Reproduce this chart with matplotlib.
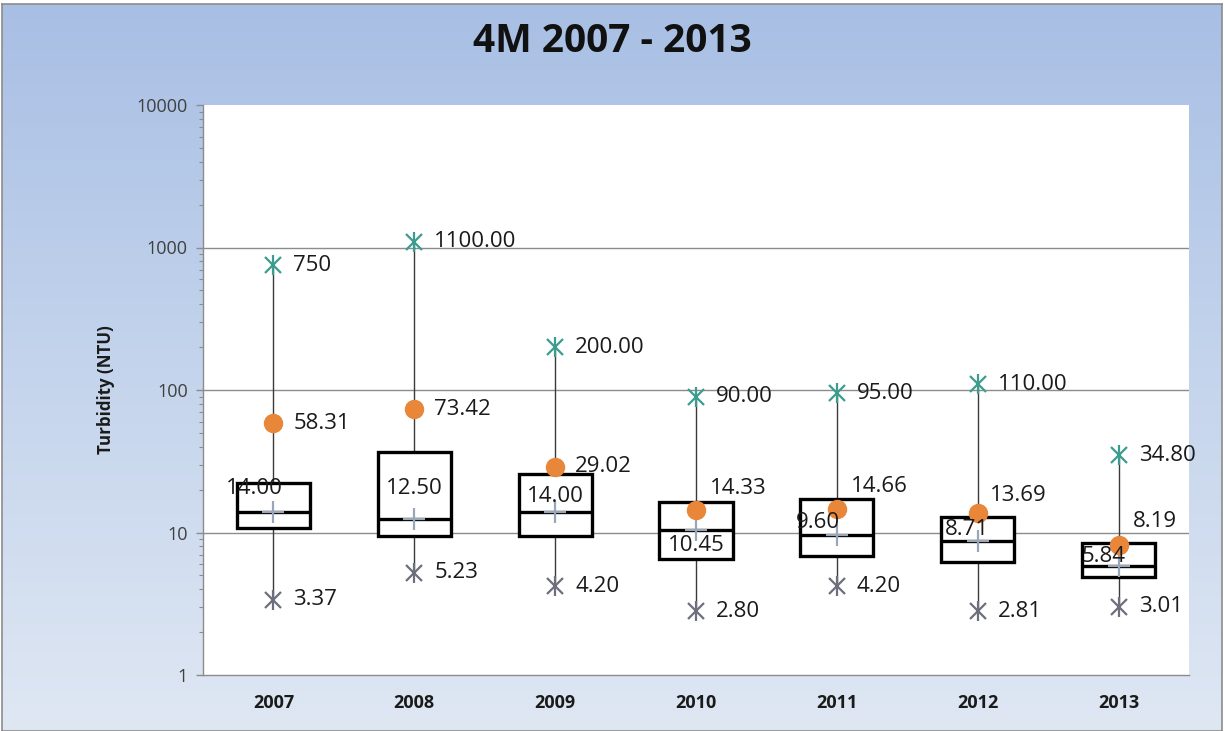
import numpy as np
import matplotlib
matplotlib.use("Agg")
import matplotlib.pyplot as plt
from matplotlib.colors import LinearSegmentedColormap

# ---------------- data ----------------
years = ['2007', '2008', '2009', '2010', '2011', '2012', '2013']
maximum = [750, 1100.00, 200.00, 90.00, 95.00, 110.00, 34.80]
q3 = [22.4, 36.5, 25.9, 16.3, 17.1, 12.9, 8.5]
median = [14.00, 12.50, 14.00, 10.45, 9.60, 8.71, 5.84]
q1 = [10.8, 9.4, 9.4, 6.5, 6.8, 6.2, 4.85]
minimum = [3.37, 5.23, 4.20, 2.80, 4.20, 2.81, 3.01]
mean = [58.31, 73.42, 29.02, 14.33, 14.66, 13.69, 8.19]
max_labels = ['750', '1100.00', '200.00', '90.00', '95.00', '110.00', '34.80']
yticks = [1, 10, 100, 1000, 10000]
ytick_labels = ['1', '10', '100', '1000', '10000']

# ---------------- style ----------------
# label offsets in pixels (dx, dy); dy positive = up
median_offsets = [(-19, 23), (0, 30), (0, 15), (0, -16), (-19, 13), (-11, 12), (-15, 9)]
mean_offsets = [(20, 0), (20, 0), (20, 0), (14, 22), (14, 22), (12, 18), (14, 23)]

W, H, DPI = 1225, 731, 100
fig = plt.figure(figsize=(W / DPI, H / DPI), dpi=DPI)
fig.patch.set_facecolor('white')

# background gradient panel with border
bg = fig.add_axes([2 / W, 0, 1220 / W, 727 / H])
grad = np.linspace(0, 1, 256).reshape(-1, 1)
cmap = LinearSegmentedColormap.from_list('bg', ['#a8bfe4', '#c4d4ec', '#dfe7f3'])
bg.imshow(grad, aspect='auto', cmap=cmap, extent=[0, 1, 0, 1], origin='upper')
bg.set_xlim(0, 1)
bg.set_ylim(0, 1)
bg.set_xticks([])
bg.set_yticks([])
for s in bg.spines.values():
    s.set_color('#8c8c8c')
    s.set_linewidth(1.2)
bg.set_zorder(-10)

ax = fig.add_axes([203 / W, (H - 675) / H, 986 / W, 570 / H])
ax.set_facecolor('white')
ax.set_yscale('log')
ax.set_ylim(1, 10000)
ax.set_xlim(-0.5, len(years) - 0.5)

x = np.arange(len(years))

for yv in [10, 100, 1000]:
    ax.axhline(yv, color='#8c8c8c', lw=1.0, zorder=1)

# whiskers
ax.vlines(x, minimum, maximum, color='#3a3a3a', lw=1.0, zorder=2)

# boxes
bw = 0.52
heights = np.array(q3) - np.array(q1)
ax.bar(x, heights, bottom=q1, width=bw, facecolor='white', edgecolor='black',
       linewidth=2.4, zorder=3)
ax.hlines(median, x - bw / 2, x + bw / 2, color='black', lw=2.4, zorder=4)

# median plus markers
ax.plot(x, median, linestyle='none', marker='+', markersize=16, mew=1.6,
        color='#98a6b8', zorder=5)

# max / min asterisk markers
for vals, col in [(maximum, '#3c9c90'), (minimum, '#6e6f7c')]:
    ax.plot(x, vals, linestyle='none', marker='x', markersize=11, mew=1.6, color=col, zorder=6)
    ax.plot(x, vals, linestyle='none', marker='|', markersize=15, mew=1.6, color=col, zorder=6)

# mean markers
ax.plot(x, mean, linestyle='none', marker='o', markersize=13, color='#e8873a',
        mec='#e8873a', zorder=7)

lab_font = dict(family='Open Sans', fontsize=16, color='#1a1a1a')
for i in range(len(years)):
    ax.annotate(max_labels[i], (x[i], maximum[i]), xytext=(20, 0), textcoords='offset pixels',
                ha='left', va='center', zorder=8, **lab_font)
    ax.annotate(f'{minimum[i]:.2f}', (x[i], minimum[i]), xytext=(20, 0), textcoords='offset pixels',
                ha='left', va='center', zorder=8, **lab_font)
    dx, dy = mean_offsets[i]
    ax.annotate(f'{mean[i]:.2f}', (x[i], mean[i]), xytext=(dx, dy), textcoords='offset pixels',
                ha='left', va='center', zorder=8, **lab_font)
    dx, dy = median_offsets[i]
    ax.annotate(f'{median[i]:.2f}', (x[i], median[i]), xytext=(dx, dy), textcoords='offset pixels',
                ha='center', va='center', zorder=8, **lab_font)

# axes styling
for s in ['top', 'right']:
    ax.spines[s].set_visible(False)
for s in ['left', 'bottom']:
    ax.spines[s].set_color('#8c8c8c')
    ax.spines[s].set_linewidth(1.0)

ax.set_yticks(yticks)
ax.set_yticklabels(ytick_labels, family='Open Sans', fontsize=13, color='#404040')
ax.tick_params(axis='y', which='major', length=5, width=1, color='#8c8c8c', pad=6)
ax.tick_params(axis='y', which='minor', length=3, width=0.8, color='#8c8c8c')
ax.yaxis.set_minor_formatter(matplotlib.ticker.NullFormatter())

ax.set_xticks(x)
ax.set_xticklabels(years, family='Open Sans', fontweight='bold', fontsize=13, color='#1a1a1a')
ax.tick_params(axis='x', length=0, pad=14)

ax.set_ylabel('Turbidity (NTU)', family='Open Sans', fontweight='bold', fontsize=12.2, color='#1a1a1a')
ax.yaxis.set_label_coords(-0.089, 0.5)

fig.text(612 / W, 1 - 42 / H, '4M 2007 - 2013', ha='center', va='center',
         family='Open Sans', fontweight='bold', fontsize=28, color='#111111')

fig.savefig('out.png', dpi=DPI)
